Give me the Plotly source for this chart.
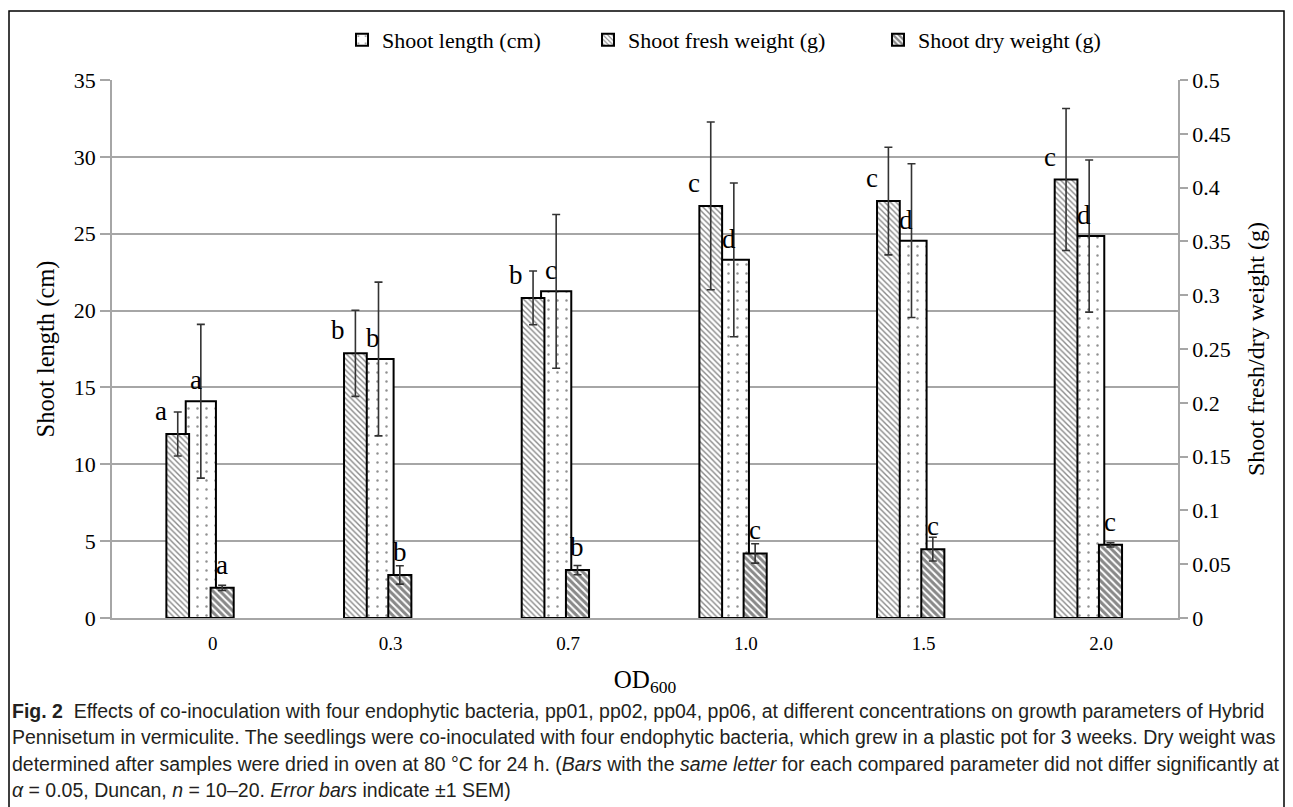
import plotly.graph_objects as go

categories = ["0", "0.3", "0.7", "1.0", "1.5", "2.0"]
shoot_length = [14.1, 16.85, 21.25, 23.3, 24.55, 24.85]
shoot_length_err = [5.0, 5.0, 5.0, 5.0, 5.0, 4.95]
fresh_weight = [0.171, 0.246, 0.2975, 0.383, 0.3875, 0.4075]
fresh_weight_err = [0.0205, 0.040, 0.025, 0.078, 0.050, 0.066]
dry_weight = [0.028, 0.040, 0.0445, 0.060, 0.064, 0.068]
dry_weight_err = [0.0025, 0.0085, 0.0043, 0.009, 0.011, 0.002]
length_letters = ["a", "b", "c", "d", "d", "d"]
fresh_letters = ["a", "b", "b", "c", "c", "c"]
dry_letters = ["a", "b", "b", "c", "c", "c"]

SERIF = "Liberation Serif, Times New Roman, serif"
GRID = "#a6a6a6"
ERR = dict(type="data", color="#333333", thickness=1.6, width=4)

# page body has an 8px default margin; work in reference pixel coordinates and offset
OFF = 8
W, H = 1293 - OFF, 807 - OFF
L, T, PW, PH = 112 - OFF, 80 - OFF, 1066, 538


def px_x(x):
    return (x - OFF - L) / PW


def px_y(y):
    return (T + PH - (y - OFF)) / PH


fig = go.Figure()
fig.add_trace(go.Bar(
    x=categories, y=shoot_length, name="Shoot length (cm)", legend="legend",
    width=0.17, offset=-0.085,
    marker=dict(color="white", line=dict(color="black", width=2),
                pattern=dict(shape=".", size=9, solidity=0.06, fgcolor="#222", bgcolor="white")),
    error_y=dict(array=shoot_length_err, **ERR),
))
fig.add_trace(go.Bar(
    x=categories, y=fresh_weight, name="Shoot fresh weight (g)", legend="legend2", yaxis="y2",
    width=0.128, offset=-0.194,
    marker=dict(color="white", line=dict(color="black", width=2),
                pattern=dict(shape="\\", size=4, solidity=0.35, fgcolor="#111", bgcolor="white")),
    error_y=dict(array=fresh_weight_err, **ERR),
))
fig.add_trace(go.Bar(
    x=categories, y=dry_weight, name="Shoot dry weight (g)", legend="legend3", yaxis="y2",
    width=0.13, offset=0.055,
    marker=dict(color="white", line=dict(color="black", width=2),
                pattern=dict(shape="\\", size=5, solidity=0.6, fgcolor="#111", bgcolor="white")),
    error_y=dict(array=dry_weight_err, **ERR),
))

annotations = []
LF = dict(family=SERIF, size=27, color="black")
for i in range(len(categories)):
    annotations.append(dict(x=i - 0.194, y=fresh_weight[i], xref="x", yref="y2", text=fresh_letters[i],
                            showarrow=False, xanchor="right", yanchor="bottom", xshift=3, yshift=6, font=LF))
    annotations.append(dict(x=i - 0.03, y=shoot_length[i], xref="x", yref="y", text=length_letters[i],
                            showarrow=False, xanchor="center", yanchor="bottom", yshift=4, font=LF))
    annotations.append(dict(x=i + 0.12, y=dry_weight[i], xref="x", yref="y2", text=dry_letters[i],
                            showarrow=False, xanchor="center", yanchor="bottom", yshift=6, font=LF))

CAP = dict(family="Liberation Sans, Arial, sans-serif", size=19.5, color="#231f20")
caption = [
    "<b>Fig. 2</b>  Effects of co-inoculation with four endophytic bacteria, pp01, pp02, pp04, pp06, at different concentrations on growth parameters of Hybrid",
    "Pennisetum in vermiculite. The seedlings were co-inoculated with four endophytic bacteria, which grew in a plastic pot for 3 weeks. Dry weight was",
    "determined after samples were dried in oven at 80 °C for 24 h. (<i>Bars</i> with the <i>same letter</i> for each compared parameter did not differ significantly at",
    "<i>α</i> = 0.05, Duncan, <i>n</i> = 10–20. <i>Error bars</i> indicate ±1 SEM)",
]
for k, line in enumerate(caption):
    annotations.append(dict(x=px_x(10), y=px_y(711 + 26.3 * k), xref="paper", yref="paper", text=line,
                            showarrow=False, xanchor="left", yanchor="middle", font=CAP))

LEG = dict(yanchor="middle", xanchor="left", bgcolor="rgba(0,0,0,0)", font=dict(family=SERIF, size=22))
fig.update_layout(
    width=W, height=H,
    margin=dict(l=L, r=W - L - PW, t=T, b=H - T - PH, autoexpand=False),
    paper_bgcolor="white", plot_bgcolor="white",
    barmode="overlay", showlegend=True,
    font=dict(family=SERIF, size=20, color="black"),
    xaxis=dict(type="category", showline=True, linecolor=GRID, linewidth=1.5, ticks="",
               tickfont=dict(family=SERIF, size=19), ticklabelshift=12, ticklabelstandoff=7,
               title=dict(text="OD<sub>600</sub>", font=dict(family=SERIF, size=25), standoff=18),
               range=[-0.5, 5.5]),
    yaxis=dict(range=[0, 35], dtick=5, showgrid=True, gridcolor=GRID, gridwidth=1.5,
               showline=True, linecolor=GRID, linewidth=1.5, ticks="outside", ticklen=10,
               tickcolor=GRID, tickwidth=1.5, zeroline=False,
               tickfont=dict(family=SERIF, size=22),
               title=dict(text="Shoot length (cm)", font=dict(family=SERIF, size=24.5), standoff=12)),
    yaxis2=dict(range=[0, 0.5], dtick=0.05, overlaying="y", side="right", showgrid=False,
                showline=True, linecolor=GRID, linewidth=1.5, ticks="outside", ticklen=8,
                tickcolor=GRID, tickwidth=1.5, zeroline=False,
                tickfont=dict(family=SERIF, size=22),
                title=dict(text="Shoot fresh/dry weight (g)", font=dict(family=SERIF, size=24), standoff=18)),
    legend=dict(x=px_x(342), y=px_y(40), **LEG),
    legend2=dict(x=px_x(588), y=px_y(40), **LEG),
    legend3=dict(x=px_x(878), y=px_y(40), **LEG),
    annotations=annotations,
    shapes=[dict(type="rect", xref="paper", yref="paper", x0=px_x(9), x1=px_x(1284),
                 y0=px_y(830), y1=px_y(11), line=dict(color="black", width=1.5), layer="below")],
)

fig.write_html("out.html")
